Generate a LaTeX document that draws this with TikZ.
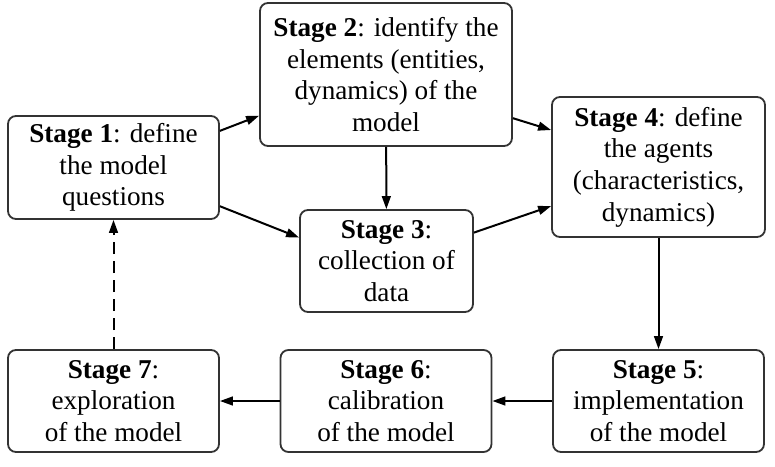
\documentclass[tikz,border=0pt]{standalone}
\usepackage{fontspec}
\setmainfont{Liberation Serif}
\usetikzlibrary{arrows.meta,positioning}

\begin{document}
\begin{tikzpicture}[
      x=0.5pt,y=-0.5pt,
      box/.style={draw=black!80,rounded corners=4pt,align=center,inner sep=2pt,
                  line width=0.9pt,font=\fontsize{13.6}{15.8}\selectfont},
      arr/.style={-{Triangle[length=6.5pt,width=4.4pt]},line width=1pt}]
    \useasboundingbox (0,0) rectangle (775,466);

    \node[box,minimum width=105.5pt,minimum height=51.5pt] (stage1) at (113.5,167.5)
      {\textbf{Stage 1}: define\\the model\\questions};
    \node[box,minimum width=126pt,minimum height=71.5pt] (stage2) at (386,74.5)
      {\textbf{Stage 2}: identify the\\elements (entities,\\dynamics) of the\\model};
    \node[box,minimum width=86.5pt,minimum height=51pt] (stage3) at (386.5,261)
      {\textbf{Stage 3}:\\collection of\\data};
    \node[box,minimum width=106.5pt,minimum height=70pt] (stage4) at (658.5,167)
      {\textbf{Stage 4}: define\\the agents\\(characteristics,\\dynamics)};
    \node[box,minimum width=105.5pt,minimum height=51pt] (stage5) at (658.5,401)
      {\textbf{Stage 5}:\\implementation\\of the model};
    \node[box,minimum width=105.5pt,minimum height=51pt] (stage6) at (386,401)
      {\textbf{Stage 6}:\\calibration\\of the model};
    \node[box,minimum width=105.5pt,minimum height=51pt] (stage7) at (113.5,401)
      {\textbf{Stage 7}:\\exploration\\of the model};

    \draw[arr] (stage1.19) -- (stage2.198);
    \draw[arr] (stage1.-20) -- (stage3.165);
    \draw[arr] (stage2) -- (stage3);
    \draw[arr] (stage2.-19) -- (stage4.161);
    \draw[arr] (stage3.18) -- (stage4.200);
    \draw[arr] (stage4) -- (stage5);
    \draw[arr] (stage5) -- (stage6);
    \draw[arr] (stage6) -- (stage7);
    \draw[arr,dash pattern=on 6pt off 3.5pt] (stage7) -- (stage1);
  \end{tikzpicture}
\end{document}
